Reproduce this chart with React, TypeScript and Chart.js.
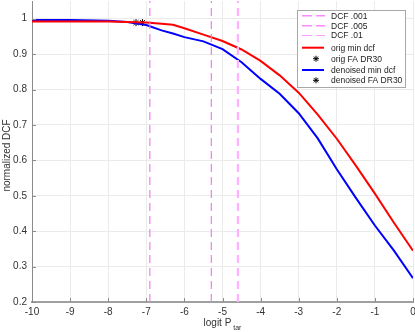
import React, { useEffect, useRef } from "react";
import { Chart, registerables } from "chart.js";

Chart.register(...registerables);

const logitPtar = [-10, -9, -8, -7.5, -7, -6.6, -6.3, -6, -5.5, -5, -4.5, -4, -3.5, -3, -2.5, -2, -1.5, -1, -0.5, 0];
const origMinDcf = [0.992, 0.992, 0.992, 0.991, 0.989, 0.986, 0.983, 0.973, 0.955, 0.937, 0.913, 0.881, 0.84, 0.791, 0.729, 0.661, 0.585, 0.506, 0.424, 0.345];
const denoisedMinDcf = [0.996, 0.996, 0.994, 0.991, 0.982, 0.967, 0.958, 0.948, 0.936, 0.914, 0.877, 0.83, 0.788, 0.733, 0.662, 0.575, 0.494, 0.416, 0.345, 0.267];
const origFaDr30 = { x: -7.1, y: 0.989 };
const denoisedFaDr30 = { x: -7.27, y: 0.989 };
const dcfLines = [
  { label: "DCF .001", x: -6.9068 },
  { label: "DCF .005", x: -5.2933 },
  { label: "DCF .01", x: -4.5951 },
];
const xTicks = [-10, -9, -8, -7, -6, -5, -4, -3, -2, -1, 0];
const yTicks = [0.2, 0.3, 0.4, 0.5, 0.6, 0.7, 0.8, 0.9, 1];
const legendLabels = ["DCF .001", "DCF .005", "DCF .01", "orig min dcf", "orig FA DR30", "denoised min dcf", "denoised FA DR30"];

const FONT = "'Liberation Sans', Arial, Helvetica, sans-serif";
const dcfStyles = [
  { color: "#f07ef0", width: 1.2 },
  { color: "#f07ef0", width: 1.2 },
  { color: "#ffb0ff", width: 2.2 },
];

const overlayPlugin = {
  id: "overlay",
  afterDraw(chart: any) {
    const ctx = chart.ctx;
    const area = chart.chartArea;
    const xs = chart.scales.x;
    const ys = chart.scales.y;
    ctx.save();
    // inward tick marks
    ctx.strokeStyle = "#8a8a8a";
    ctx.lineWidth = 1;
    xTicks.forEach((t) => {
      const px = Math.round(xs.getPixelForValue(t)) + 0.5;
      ctx.beginPath();
      ctx.moveTo(px, area.bottom);
      ctx.lineTo(px, area.bottom - 4);
      ctx.stroke();
    });
    yTicks.forEach((t) => {
      const py = Math.round(ys.getPixelForValue(t)) + 0.5;
      ctx.beginPath();
      ctx.moveTo(area.left, py);
      ctx.lineTo(area.left + 4, py);
      ctx.stroke();
    });
    // axis titles
    ctx.fillStyle = "#333333";
    ctx.font = `10px ${FONT}`;
    ctx.textBaseline = "alphabetic";
    const cx = (area.left + area.right) / 2;
    const mainW = ctx.measureText("logit P").width;
    ctx.font = `7px ${FONT}`;
    const subW = ctx.measureText(" tar").width;
    const startX = cx - (mainW + subW) / 2;
    ctx.font = `10px ${FONT}`;
    ctx.textAlign = "left";
    ctx.fillText("logit P", startX, 326);
    ctx.font = `7px ${FONT}`;
    ctx.fillText(" tar", startX + mainW, 330);
    ctx.font = `10px ${FONT}`;
    ctx.translate(10, (area.top + area.bottom) / 2 + 4);
    ctx.rotate(-Math.PI / 2);
    ctx.textAlign = "center";
    ctx.fillText("normalized DCF", 0, 0);
    ctx.restore();

    // legend
    ctx.save();
    const lx = 297.5, ly = 10.5, lw = 108, lh = 77;
    ctx.fillStyle = "#ffffff";
    ctx.fillRect(lx, ly, lw, lh);
    ctx.strokeStyle = "#a8a8a8";
    ctx.lineWidth = 1;
    ctx.strokeRect(lx, ly, lw, lh);
    const rowY = [15.7, 25.7, 35.5, 47.7, 58.7, 70, 80.3];
    ctx.font = `8.5px ${FONT}`;
    ctx.textAlign = "left";
    ctx.textBaseline = "middle";
    legendLabels.forEach((lab, i) => {
      const y = rowY[i];
      if (i < 3) {
        ctx.strokeStyle = i < 2 ? "#ff88ff" : "#ff9cff";
        ctx.lineWidth = i < 2 ? 1.5 : 1;
        ctx.beginPath();
        ctx.moveTo(302, y); ctx.lineTo(312, y);
        ctx.moveTo(316, y); ctx.lineTo(325, y);
        ctx.stroke();
      } else if (i === 3 || i === 5) {
        ctx.strokeStyle = i === 3 ? "#ff0000" : "#0000ff";
        ctx.lineWidth = 2;
        ctx.beginPath();
        ctx.moveTo(302, y); ctx.lineTo(324, y);
        ctx.stroke();
      } else {
        ctx.strokeStyle = "#000000";
        ctx.lineWidth = 1;
        const r = 3;
        ctx.beginPath();
        for (let k = 0; k < 4; k++) {
          const a = (k * Math.PI) / 4;
          ctx.moveTo(316 - r * Math.cos(a), y - r * Math.sin(a));
          ctx.lineTo(316 + r * Math.cos(a), y + r * Math.sin(a));
        }
        ctx.stroke();
      }
      ctx.fillStyle = "#222222";
      ctx.fillText(lab, 331, y + 0.5);
    });
    ctx.restore();
  },
};

export default function App() {
  const ref = useRef<HTMLCanvasElement | null>(null);
  useEffect(() => {
    document.body.style.margin = "0";
    const canvas = ref.current;
    if (!canvas) return;
    const datasets: any[] = [];
    dcfLines.forEach((d, i) => {
      datasets.push({
        label: d.label,
        data: [{ x: d.x, y: 0.2 }, { x: d.x, y: 1.05 }],
        borderColor: dcfStyles[i].color,
        borderWidth: dcfStyles[i].width,
        borderDash: [8, 5],
        pointRadius: 0,
        showLine: true,
      });
    });
    datasets.push({
      label: "orig min dcf",
      data: logitPtar.map((x, i) => ({ x, y: origMinDcf[i] })),
      borderColor: "#ff0000",
      borderWidth: 2,
      pointRadius: 0,
      showLine: true,
    });
    datasets.push({
      label: "denoised min dcf",
      data: logitPtar.map((x, i) => ({ x, y: denoisedMinDcf[i] })),
      borderColor: "#0000ff",
      borderWidth: 2,
      pointRadius: 0,
      showLine: true,
    });
    datasets.push({
      label: "orig FA DR30",
      data: [origFaDr30],
      borderColor: "#000000",
      backgroundColor: "#000000",
      pointStyle: "star",
      pointRadius: 3.5,
      pointBorderWidth: 1,
      showLine: false,
    });
    datasets.push({
      label: "denoised FA DR30",
      data: [denoisedFaDr30],
      borderColor: "#000000",
      backgroundColor: "#000000",
      pointStyle: "star",
      pointRadius: 3.5,
      pointBorderWidth: 1,
      showLine: false,
    });

    const chart = new Chart(canvas, {
      type: "scatter",
      data: { datasets },
      options: {
        animation: false,
        responsive: false,
        devicePixelRatio: 1,
        layout: { padding: { left: 0, right: 2, top: 1, bottom: 0 }, autoPadding: false },
        plugins: { legend: { display: false }, tooltip: { enabled: false } },
        scales: {
          x: {
            type: "linear",
            min: -10,
            max: 0,
            afterBuildTicks: (s: any) => { s.ticks = xTicks.map((v) => ({ value: v })); },
            afterFit: (s: any) => { s.height = 30; s.paddingLeft = 0; s.paddingRight = 0; },
            ticks: {
              font: { family: FONT, size: 10 },
              color: "#333333",
              padding: 4,
              callback: (v: any) => String(v),
            },
            grid: { color: "#ebebeb", drawTicks: false },
            border: { color: "#a0a0a0", width: 2 },
          },
          y: {
            type: "linear",
            min: 0.2,
            max: 1.05,
            afterBuildTicks: (s: any) => { s.ticks = yTicks.map((v) => ({ value: v })); },
            afterFit: (s: any) => { s.width = 32; s.paddingTop = 0; s.paddingBottom = 0; },
            ticks: {
              font: { family: FONT, size: 10 },
              color: "#333333",
              padding: 5,
              callback: (v: any) => String(Math.round(v * 10) / 10),
            },
            grid: { color: "#ebebeb", drawTicks: false },
            border: { color: "#8a8a8a", width: 1 },
          },
        },
      },
      plugins: [overlayPlugin],
    });
    return () => chart.destroy();
  }, []);
  return (
    <div style={{ position: "fixed", left: 0, top: 0, width: 415, height: 332, background: "#fff" }}>
      <canvas ref={ref} width={415} height={332} style={{ width: 415, height: 332 }} />
    </div>
  );
}
